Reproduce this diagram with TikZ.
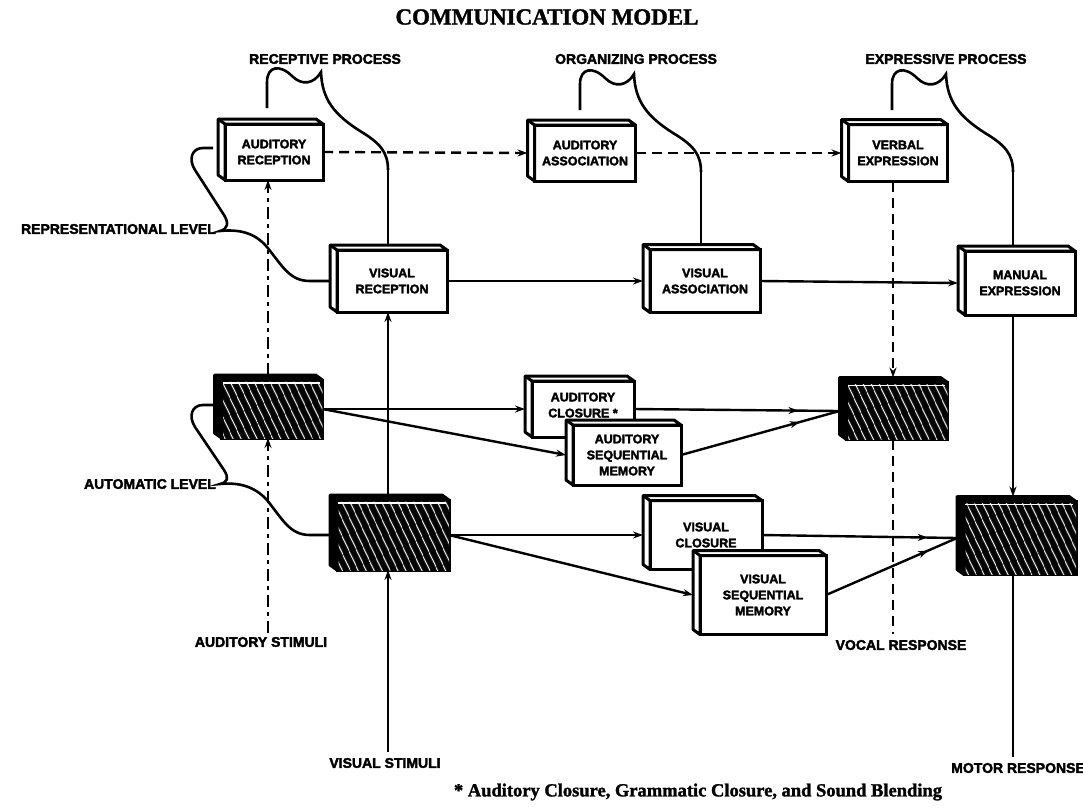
\documentclass[tikz,border=0pt]{standalone}
\usepackage{fontspec}
\setmainfont{Liberation Serif}[BoldFeatures={FakeBold=1.5}]
\newfontfamily\lblfont{Liberation Sans}[BoldFeatures={FakeBold=2.5}]
\usetikzlibrary{arrows.meta,calc,patterns.meta,decorations.markings}
\newcommand\lbl{\lblfont\bfseries\fontsize{14}{16}\selectfont}
\newcommand\bxf{\lblfont\bfseries\fontsize{12.5}{16}\selectfont}
\tikzset{
 conn/.style={line width=2.4pt},
 arr/.style={conn, -{Stealth[length=10pt,width=7pt]}},
 dsh/.style={dash pattern=on 10pt off 6pt},
 dashdot/.style={dash pattern=on 12pt off 5pt on 4pt off 5pt},
 midarr/.style={conn, postaction={decorate}, decoration={markings, mark=at position #1 with {\arrow{Stealth[length=10pt,width=7pt]}}}},
 pbox/.style={draw, line width=3pt, fill=white, rectangle, outer sep=0pt, inner sep=0pt, align=center, font=\bxf},
 hbox/.style={draw, line width=3pt, fill=black, rectangle, outer sep=0pt, inner sep=0pt, postaction={pattern={Lines[angle=115,distance=6.5pt,line width=1.1pt]}, pattern color=white}},
 edge3d/.style={line width=3pt, line join=round},
 brace/.style={line width=2.6pt},
 lab/.style={font=\lbl, inner sep=0pt},
 pics/procbrace/.style={code={\draw[brace] (0,0) -- (0,-26) .. controls (0,-42) and (13,-44) .. (25,-32) .. controls (35,-22) and (47,-24) .. (54,-36) .. controls (55,-8) and (68,7) .. (93,23) .. controls (113,35) and (121,44) .. (121,62) coordinate (-end);}}
}
\newcommand\mkbox[5]{%
 \node[pbox, minimum width=#3pt, minimum height=#4pt] (#1) at (#2) {#5};
 \filldraw[edge3d, fill=white] (#1.south west) -- ++(-7,-5) |- ($(#1.north east)+(-7,-5)$) -- (#1.north east) -- (#1.north west) -- cycle;
 \draw[edge3d] (#1.north west) -- ++(-7,-5);
 \coordinate (#1-l) at ($(#1.west)+(-7,0)$);
 \coordinate (#1-t) at ($(#1.north)+(0,-5)$);
}
\newcommand\mkhatch[4]{%
 \node[hbox, minimum width=#3pt, minimum height=#4pt] (#1) at (#2) {};
 \filldraw[edge3d, fill=black] (#1.south west) -- ++(-7,-5) |- ($(#1.north east)+(-7,-5)$) -- (#1.north east) -- (#1.north west) -- cycle;
 \draw[white, line width=1.5pt] ($(#1.north west)+(1,3)$) -- ($(#1.north east)+(-3,3)$);
 \coordinate (#1-l) at ($(#1.west)+(-7,0)$);
 \coordinate (#1-t) at ($(#1.north)+(0,-5)$);
}
\begin{document}
\begin{tikzpicture}[x=1pt,y=-1pt]
\useasboundingbox (0,0) rectangle (1083,807);
\fill[white] (0,0) rectangle (1083,807);

% title and labels
\node[font=\bfseries\fontsize{23}{26}\selectfont, inner sep=0pt] (title) at (547,17) {COMMUNICATION MODEL};
\node[lab] (rp) at (325,59) {RECEPTIVE PROCESS};
\node[lab] (op) at (636,59) {ORGANIZING PROCESS};
\node[lab] (ep) at (946,59) {EXPRESSIVE PROCESS};
\node[lab, anchor=east] (replvl) at (216,229) {REPRESENTATIONAL LEVEL};
\node[lab, anchor=east] (autolvl) at (216,484) {AUTOMATIC LEVEL};
\node[lab] (aus) at (261,642) {AUDITORY STIMULI};
\node[lab] (vis) at (385,763) {VISUAL STIMULI};
\node[lab] (voc) at (901,645) {VOCAL RESPONSE};
\node[lab, anchor=east] (mot) at (1085,768) {MOTOR RESPONSE};
\node[font=\bfseries\fontsize{18.5}{20}\selectfont, inner sep=0pt] (foot) at (698,792) {* Auditory Closure, Grammatic Closure, and Sound Blending};

% boxes
\mkbox{AR}{274,152}{98}{56}{AUDITORY\\RECEPTION}
\mkbox{AA}{585,153}{101}{56}{AUDITORY\\ASSOCIATION}
\mkbox{VE}{898,153}{99}{57}{VERBAL\\EXPRESSION}
\mkbox{VR}{392,281}{110}{62}{VISUAL\\RECEPTION}
\mkbox{VA}{705,281}{110}{63}{VISUAL\\ASSOCIATION}
\mkbox{ME}{1020,283}{110}{64}{MANUAL\\EXPRESSION}
\mkhatch{AH}{272,409}{101}{58}
\mkbox{AC}{583,409}{102}{56}{AUDITORY\\CLOSURE *\\[-8pt]\mbox{}}
\mkbox{ASM}{627,455}{108}{60}{AUDITORY\\SEQUENTIAL\\MEMORY}
\mkhatch{RH}{897,411}{101}{57}
\mkhatch{VH}{393,535}{112}{70}
\mkbox{VC}{706,535}{112}{69}{VISUAL\\CLOSURE}
\mkbox{VSM}{763,595}{126}{79}{VISUAL\\SEQUENTIAL\\MEMORY}
\mkhatch{MH}{1020,538}{112}{73}

% process braces
\pic (rb) at (267,108) {procbrace};
\draw[brace] (rb-end) -- (rb-end |- VR-t);
\pic (ob) at (580,110) {procbrace};
\draw[brace] (ob-end) -- (ob-end |- VA-t);
\pic (eb) at (892,110) {procbrace};
\draw[brace] (eb-end) -- (eb-end |- ME-t);

% level braces
\draw[brace] (213,148) -- (203,148) .. controls (192,148) and (188,159) .. (195,170) -- (224,215) .. controls (229,223) and (228,229) .. (220,231) .. controls (240,229) and (255,233) .. (267,247) .. controls (283,267) and (290,281) .. (310,281) -- (VR-l);
\draw[brace] (213,405) -- (203,405) .. controls (192,405) and (188,416) .. (195,427) -- (224,470) .. controls (229,478) and (228,482) .. (220,484) .. controls (240,482) and (255,487) .. (267,500) .. controls (283,520) and (290,535) .. (310,535) -- (VH-l);

% stimuli / responses
\coordinate (as) at (268,633);
\draw[arr, dashdot] (as) -- (as |- AH.south);
\draw[arr, dashdot] (as |- AH-t) -- (as |- AR.south);
\coordinate (vs) at (388,752);
\draw[arr] (vs) -- (vs |- VH.south);
\draw[arr] (vs |- VH-t) -- (vs |- VR.south);
\coordinate (vo) at (893,634);
\draw[arr, dsh] (vo |- VE.south) -- (vo |- RH-t);
\draw[conn, dsh] (vo |- RH.south) -- (vo);
\coordinate (mo) at (1013,757);
\draw[arr] (mo |- ME.south) -- (mo |- MH-t);
\draw[conn] (mo |- MH.south) -- (mo);

% horizontal connectors
\draw[arr, dsh] (AR.east) -- (AA-l);
\draw[arr, dsh] (AA.east) -- (VE-l);
\draw[arr] (VR.east) -- (VA-l);
\draw[arr] (VA.east) -- (ME-l);
\draw[arr] (AH.east) -- (AC-l);
\draw[arr] (AH.east) -- (ASM-l);
\draw[midarr=0.8] (AC.east) -- (RH-l);
\draw[midarr=0.75] (ASM.east) -- (RH-l);
\draw[arr] (VH.east) -- (VC-l);
\draw[arr] (VH.east) -- (VSM-l);
\draw[midarr=0.85] (VC.east) -- (MH-l);
\draw[midarr=0.78] (VSM.east) -- (MH-l);
\end{tikzpicture}
\end{document}
